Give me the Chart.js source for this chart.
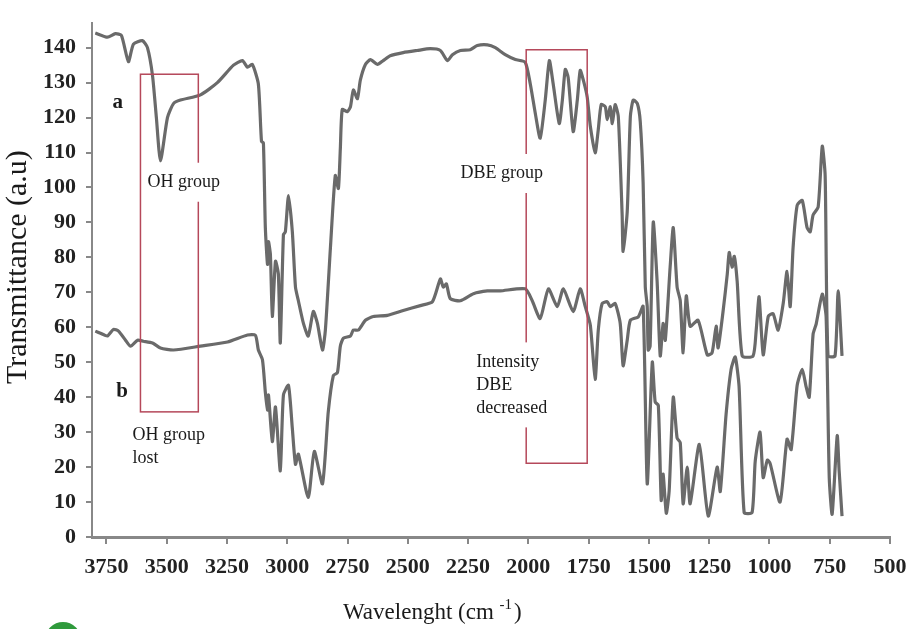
<!DOCTYPE html>
<html>
<head>
<meta charset="utf-8">
<script src="https://cdn.jsdelivr.net/npm/chart.js@4.4.1/dist/chart.umd.min.js"></script>
<style>
  html, body { margin: 0; padding: 0; background: #fff; }
  #wrap { width: 908px; height: 629px; position: relative; }
</style>
</head>
<body>
<div id="wrap"><canvas id="irChart"></canvas></div>
<script>
// spectrum a (before) - wavenumber / transmittance
const waveA = [3796, 3746, 3713, 3688, 3659, 3638, 3601, 3580, 3559, 3543,
    3526, 3497, 3472, 3443, 3360, 3290, 3223, 3186, 3165, 3145,
    3120, 3107, 3099, 3091, 3082, 3078, 3070, 3062, 3049, 3037,
    3029, 3016, 3008, 2995, 2979, 2966, 2954, 2933, 2913, 2892,
    2875, 2854, 2842, 2821, 2801, 2788, 2780, 2772, 2751, 2738,
    2726, 2709, 2697, 2676, 2655, 2626, 2602, 2573, 2519, 2461,
    2407, 2365, 2336, 2315, 2282, 2241, 2212, 2170, 2137, 2096,
    2054, 2013, 1992, 1971, 1951, 1930, 1913, 1897, 1872, 1859,
    1847, 1835, 1814, 1797, 1785, 1772, 1756, 1743, 1723, 1710,
    1698, 1681, 1673, 1660, 1652, 1640, 1627, 1611, 1607, 1590,
    1577, 1565, 1548, 1536, 1524, 1515, 1507, 1503, 1495, 1482,
    1466, 1453, 1441, 1432, 1412, 1399, 1383, 1370, 1358, 1345,
    1329, 1296, 1258, 1238, 1221, 1213, 1192, 1175, 1167, 1155,
    1146, 1134, 1113, 1068, 1055, 1043, 1026, 1005, 985, 964,
    943, 927, 914, 902, 885, 864, 844, 831, 819, 798,
    781, 769, 757, 728, 715, 699];
const transA = [144.2, 143, 144, 143.5, 136, 141, 142, 140, 132, 120,
    107.6, 120, 124, 125, 126.5, 130, 135, 136.3, 134.4, 135.2,
    129.6, 113.2, 112.7, 88.5, 78, 84.5, 80.8, 63.1, 78.9, 75.2,
    55.5, 86.5, 87.3, 97.7, 87.3, 71.5, 67.6, 61.1, 57.5, 64.5,
    61.1, 53.5, 59.2, 82.8, 103.4, 99.7, 111, 122.3, 121.7, 123.1,
    127.9, 125.4, 130.7, 135.2, 136.6, 135.2, 136.3, 137.7, 138.6, 139.2,
    139.7, 139.2, 136.3, 138, 139.2, 139.4, 140.6, 140.8, 140, 138,
    136.6, 135.8, 129.6, 121.1, 114.1, 125, 136.3, 129.6, 118.3, 125,
    133.8, 131.5, 116, 125, 133.5, 130.7, 125.9, 117.5, 109.9, 116.6,
    123.7, 123.1, 119.4, 123.1, 118.3, 123.7, 120.3, 92.1, 81.7, 93,
    120.3, 125, 124, 118.9, 101.4, 71.5, 65.9, 53.5, 54.6, 90.1,
    73.2, 51.8, 61.1, 56.3, 77.2, 88.5, 71.5, 67.6, 52.7, 69,
    60.3, 62, 52.1, 52.7, 60.3, 54.1, 64.8, 75.2, 81.4, 77.2,
    80.3, 73.2, 51.8, 51.8, 59.2, 68.7, 52.1, 63.1, 63.9, 59.2,
    66.8, 76, 65.9, 82.8, 94.9, 96.3, 88.5, 87.3, 92.1, 94.4,
    111.8, 103.4, 51.8, 51.8, 70.4, 51.8];

// spectrum b (after)
const waveB = [3796, 3775, 3746, 3721, 3700, 3671, 3650, 3621, 3597, 3559,
    3526, 3472, 3360, 3248, 3165, 3132, 3120, 3103, 3091, 3082,
    3078, 3062, 3049, 3029, 3016, 2995, 2979, 2966, 2954, 2913,
    2888, 2854, 2830, 2809, 2792, 2780, 2767, 2738, 2726, 2705,
    2676, 2643, 2585, 2519, 2448, 2398, 2365, 2353, 2340, 2324,
    2282, 2228, 2170, 2117, 2013, 1984, 1951, 1917, 1880, 1855,
    1814, 1785, 1764, 1743, 1723, 1710, 1694, 1673, 1660, 1640,
    1619, 1607, 1590, 1577, 1544, 1524, 1507, 1486, 1474, 1461,
    1449, 1441, 1428, 1416, 1399, 1383, 1370, 1358, 1341, 1329,
    1291, 1254, 1217, 1204, 1180, 1159, 1142, 1126, 1105, 1072,
    1059, 1039, 1026, 1009, 997, 956, 927, 910, 885, 864,
    848, 835, 819, 806, 781, 765, 752, 740, 719, 711,
    699];
const transB = [58.9, 58.3, 57.5, 59.4, 58.9, 56.3, 54.6, 56.3, 56, 55.5,
    54.1, 53.5, 54.6, 55.8, 57.8, 57.7, 53.5, 50.7, 41.4, 36.3,
    40.6, 27.3, 37.2, 18.9, 40.6, 43.4, 31, 20.8, 23.7, 11.3,
    24.5, 15.2, 35.8, 46.2, 47, 54.6, 56.9, 57.5, 59.2, 59.2,
    62, 63.1, 63.4, 64.8, 66.2, 67.3, 73.8, 71.5, 72.4, 68.2,
    67.6, 69.6, 70.4, 70.4, 71, 67.6, 62.5, 71, 65.9, 71,
    64.5, 71, 65.9, 60.6, 45.1, 59.2, 66.8, 67.3, 65.9, 66.8,
    61.1, 49, 56.3, 62, 63, 66, 15.2, 50, 38.6, 37.7,
    10.5, 18, 6.8, 13.2, 40, 28.3, 27, 9.5, 20, 9.5,
    26.5, 6, 20, 13, 35, 48, 51.5, 43, 7, 7,
    21.7, 30, 17, 22, 21, 10, 28, 25, 43.4, 48,
    43, 40, 58, 61, 69.5, 63, 17, 6.5, 29, 19,
    6];

const xTicks = [3750, 3500, 3250, 3000, 2750, 2500, 2250, 2000, 1750, 1500, 1250, 1000, 750, 500];
const yTicks = [0, 10, 20, 30, 40, 50, 60, 70, 80, 90, 100, 110, 120, 130, 140];

// marked regions [wave from, wave to, top, bottom]
const boxes = [[3609, 3369, 132.4, 35.8], [2009, 1756, 139.4, 21.1]];
// text labels: lines, wave, value of first line, font
const notes = [
    { lines: ['a'], w: 3725, v: 124.2, font: 'bold 21px "Liberation Serif"', bg: false },
    { lines: ['b'], w: 3709, v: 41.7, font: 'bold 21px "Liberation Serif"', bg: false },
    { lines: ['OH group'], w: 3580, v: 101.5, font: '18px "Liberation Serif"', bg: true },
    { lines: ['OH group', 'lost'], w: 3642, v: 29, font: '18px "Liberation Serif"', bg: true },
    { lines: ['DBE group'], w: 2282, v: 104, font: '18px "Liberation Serif"', bg: true },
    { lines: ['Intensity', 'DBE', 'decreased'], w: 2216, v: 50.1, font: '18px "Liberation Serif"', bg: true }
];

function toPoints(xs, ys) {
    return xs.map(function (w, i) { return { x: w, y: ys[i] }; });
}

// red boxes, notes and axis titles
const annotPlugin = {
    id: 'annot',
    afterDatasetsDraw: function (chart) {
        const ctx = chart.ctx;
        const sx = chart.scales.x, sy = chart.scales.y;
        ctx.save();
        ctx.strokeStyle = '#b5485a';
        ctx.lineWidth = 1.5;
        boxes.forEach(function (b) {
            const x1 = sx.getPixelForValue(b[0]), x2 = sx.getPixelForValue(b[1]);
            const y1 = sy.getPixelForValue(b[2]), y2 = sy.getPixelForValue(b[3]);
            ctx.strokeRect(x1, y1, x2 - x1, y2 - y1);
        });
        const lh = 23;
        notes.forEach(function (n) {
            ctx.font = n.font;
            const x = sx.getPixelForValue(n.w);
            const y = sy.getPixelForValue(n.v);
            if (n.bg) {
                let wmax = 0;
                n.lines.forEach(function (t) { wmax = Math.max(wmax, ctx.measureText(t).width); });
                ctx.fillStyle = '#fff';
                ctx.fillRect(x - 4, y - lh / 2 - 8, wmax + 8, lh * n.lines.length + 16);
            }
            ctx.fillStyle = '#1a1a1a';
            ctx.textBaseline = 'middle';
            ctx.textAlign = 'left';
            n.lines.forEach(function (t, i) { ctx.fillText(t, x, y + i * lh); });
        });
        ctx.restore();
    },
    afterDraw: function (chart) {
        const ctx = chart.ctx;
        const area = chart.chartArea;
        ctx.save();
        ctx.fillStyle = '#1a1a1a';
        ctx.textBaseline = 'middle';
        // y title
        ctx.save();
        ctx.translate(18, (area.top + area.bottom) / 2 - 13);
        ctx.rotate(-Math.PI / 2);
        ctx.textAlign = 'center';
        ctx.font = '30px "Liberation Serif"';
        ctx.fillText('Transmittance (a.u)', 0, 0);
        ctx.restore();
        // x title with superscript
        const tx = 343, ty = 613;
        ctx.textAlign = 'left';
        ctx.font = '23px "Liberation Serif"';
        const part1 = 'Wavelenght (cm ';
        ctx.fillText(part1, tx, ty);
        let cx = tx + ctx.measureText(part1).width;
        ctx.font = '15px "Liberation Serif"';
        ctx.fillText('-1', cx, ty - 8);
        cx += ctx.measureText('-1').width + 2;
        ctx.font = '23px "Liberation Serif"';
        ctx.fillText(')', cx, ty);
        // green dot cut by the bottom edge
        ctx.fillStyle = '#2f9a3c';
        ctx.beginPath();
        ctx.arc(63, 640, 18, 0, Math.PI * 2);
        ctx.fill();
        ctx.restore();
    }
};

const lineStyle = { pointRadius: 0, tension: 0.2, fill: false };

new Chart(document.getElementById('irChart'), {
    type: 'line',
    data: {
        datasets: [
            Object.assign({ data: toPoints(waveA, transA), borderColor: '#6a6a6a', borderWidth: 3.2 }, lineStyle),
            Object.assign({ data: toPoints(waveA, transA), borderColor: '#a4a4a4', borderWidth: 1.5 }, lineStyle),
            Object.assign({ data: toPoints(waveB, transB), borderColor: '#6a6a6a', borderWidth: 3.2 }, lineStyle),
            Object.assign({ data: toPoints(waveB, transB), borderColor: '#a4a4a4', borderWidth: 1.5 }, lineStyle)
        ]
    },
    options: {
        responsive: true,
        maintainAspectRatio: false,
        animation: false,
        layout: { padding: { left: 4, right: 0, top: 15, bottom: 3 } },
        plugins: { legend: { display: false }, tooltip: { enabled: false } },
        scales: {
            x: {
                type: 'linear',
                reverse: true,
                min: 500,
                max: 3810,
                afterBuildTicks: function (s) { s.ticks = xTicks.map(function (v) { return { value: v }; }); },
                afterFit: function (s) { s.height = 89; s.paddingRight = 18; s.paddingLeft = 0; },
                grid: { drawOnChartArea: false, drawTicks: true, tickLength: 7, color: '#888', lineWidth: 2 },
                border: { display: true, color: '#888', width: 3 },
                ticks: {
                    color: '#222', padding: 10, maxRotation: 0,
                    font: { family: 'Liberation Serif', weight: 'bold', size: 22 },
                    callback: function (v) { return String(v); }
                }
            },
            y: {
                min: 0,
                max: 147,
                afterBuildTicks: function (s) { s.ticks = yTicks.map(function (v) { return { value: v }; }); },
                afterFit: function (s) { s.width = 88; },
                grid: { drawOnChartArea: false, drawTicks: true, tickLength: 6, color: '#888', lineWidth: 2 },
                border: { display: true, color: '#888', width: 2 },
                ticks: { color: '#222', padding: 10, font: { family: 'Liberation Serif', weight: 'bold', size: 22 } }
            }
        }
    },
    plugins: [annotPlugin]
});
</script>
</body>
</html>
